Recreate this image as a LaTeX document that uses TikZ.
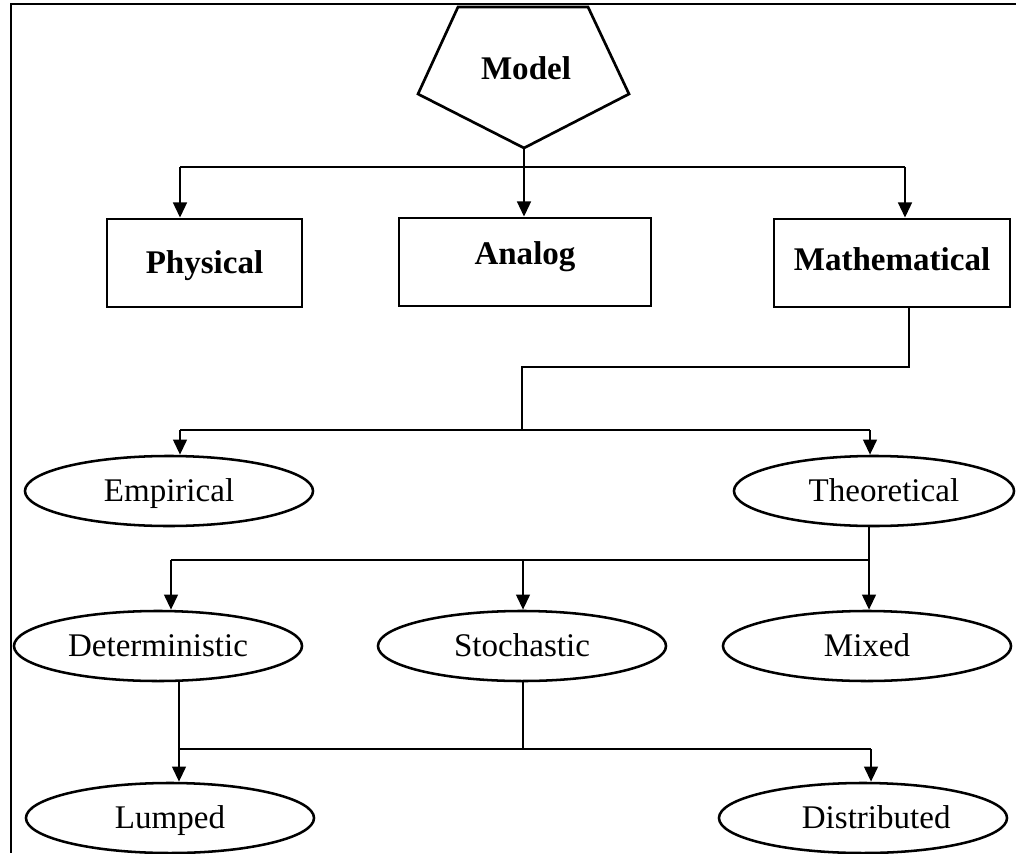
\documentclass[tikz,border=0pt]{standalone}
\usepackage{fontspec}
\setmainfont{Liberation Serif}
\usetikzlibrary{arrows.meta,shapes.geometric,positioning}

\begin{document}
\begin{tikzpicture}[x=0.025cm,y=-0.025cm]
\tikzset{
  catbox/.style={rectangle,draw=black,line width=1.9pt,minimum height=2.2cm,inner sep=0pt,text height=18pt,text depth=2.5pt,font=\fontsize{23.5}{28}\selectfont\bfseries},
  catoval/.style={ellipse,draw=black,line width=1.8pt,minimum width=7.2cm,minimum height=1.75cm,inner sep=0pt,text height=18pt,text depth=2.5pt,font=\fontsize{23.5}{28}\selectfont},
  catedge/.style={draw=black,line width=1.9pt,line join=miter},
  directed/.style={catedge,-{Triangle[length=3.8mm,width=3.4mm]}}
}
\useasboundingbox (0,0) rectangle (1016,853);
% frame
\draw[line width=1.6pt] (1016,4) -- (11,4) -- (11,853);
% top
\draw[line width=1.9pt,line join=miter] (458,7) -- (588,7) -- (629,94) -- (524,148) -- (418,94) -- cycle;
\node[font=\fontsize{23.5}{28}\selectfont\bfseries] (n_model) at (526,68) {Model};
\coordinate (n_modeltip) at (524,148);
\node[catbox,minimum width=4.875cm] (n_phys) at (204.5,263) {Physical};
\node[catbox,minimum width=6.3cm,text depth=13.8pt] (n_analog) at (525,262) {Analog};
\node[catbox,minimum width=5.9cm,text depth=6.7pt] (n_math) at (892,263) {Mathematical};
\node[catoval] (n_emp) at (169,491) {Empirical};
\node[catoval,minimum width=7cm] (n_theo) at (874,491) {\hspace*{0.6em}Theoretical};
\node[catoval] (n_det) at (158,646) {Deterministic};
\node[catoval] (n_sto) at (522,646) {Stochastic};
\node[catoval] (n_mix) at (867,646) {Mixed};
\node[catoval] (n_lump) at (170,818) {Lumped};
\node[catoval] (n_dist) at (863,818) {\hspace*{0.8em}Distributed};
% junctions
\coordinate (j_pl) at (180,167);
\coordinate (j_pr) at (905,167);
\coordinate (j_m1) at (909,367);
\coordinate (j_m2) at (522,367);
\coordinate (j_m3) at (522,430);
\coordinate (j_el) at (180,430);
\coordinate (j_er) at (870,430);
\coordinate (j_tl) at (171,560);
\coordinate (j_tm) at (523,560);
\coordinate (j_tr) at (869,560);
\coordinate (j_bl) at (179,749);
\coordinate (j_bm) at (523,749);
\coordinate (j_br) at (871,749);
% model
\draw[directed] (n_modeltip) -- (n_modeltip |- n_analog.north);
\draw[catedge] (j_pl) -- (j_pr);
\draw[directed] (j_pl) -- (j_pl |- n_phys.north);
\draw[directed] (j_pr) -- (j_pr |- n_math.north);
% mathematical
\draw[catedge] (j_m1 |- n_math.south) -- (j_m1) -- (j_m2) -- (j_m3);
\draw[catedge] (j_el) -- (j_er);
\draw[directed] (j_el) -- (j_el |- n_emp.north);
\draw[directed] (j_er) -- (j_er |- n_theo.north);
% theoretical
\draw[catedge] (j_tr |- n_theo.south) -- (j_tr);
\draw[catedge] (j_tl) -- (j_tr);
\draw[directed] (j_tl) -- (j_tl |- n_det.north);
\draw[directed] (j_tm) -- (j_tm |- n_sto.north);
\draw[directed] (j_tr) -- (j_tr |- n_mix.north);
% lumped / distributed
\draw[directed] (j_bl |- n_det.south) -- (j_bl |- n_lump.north);
\draw[catedge] (j_bm |- n_sto.south) -- (j_bm);
\draw[catedge] (j_bl) -- (j_br);
\draw[directed] (j_br) -- (j_br |- n_dist.north);
\end{tikzpicture}
\end{document}
